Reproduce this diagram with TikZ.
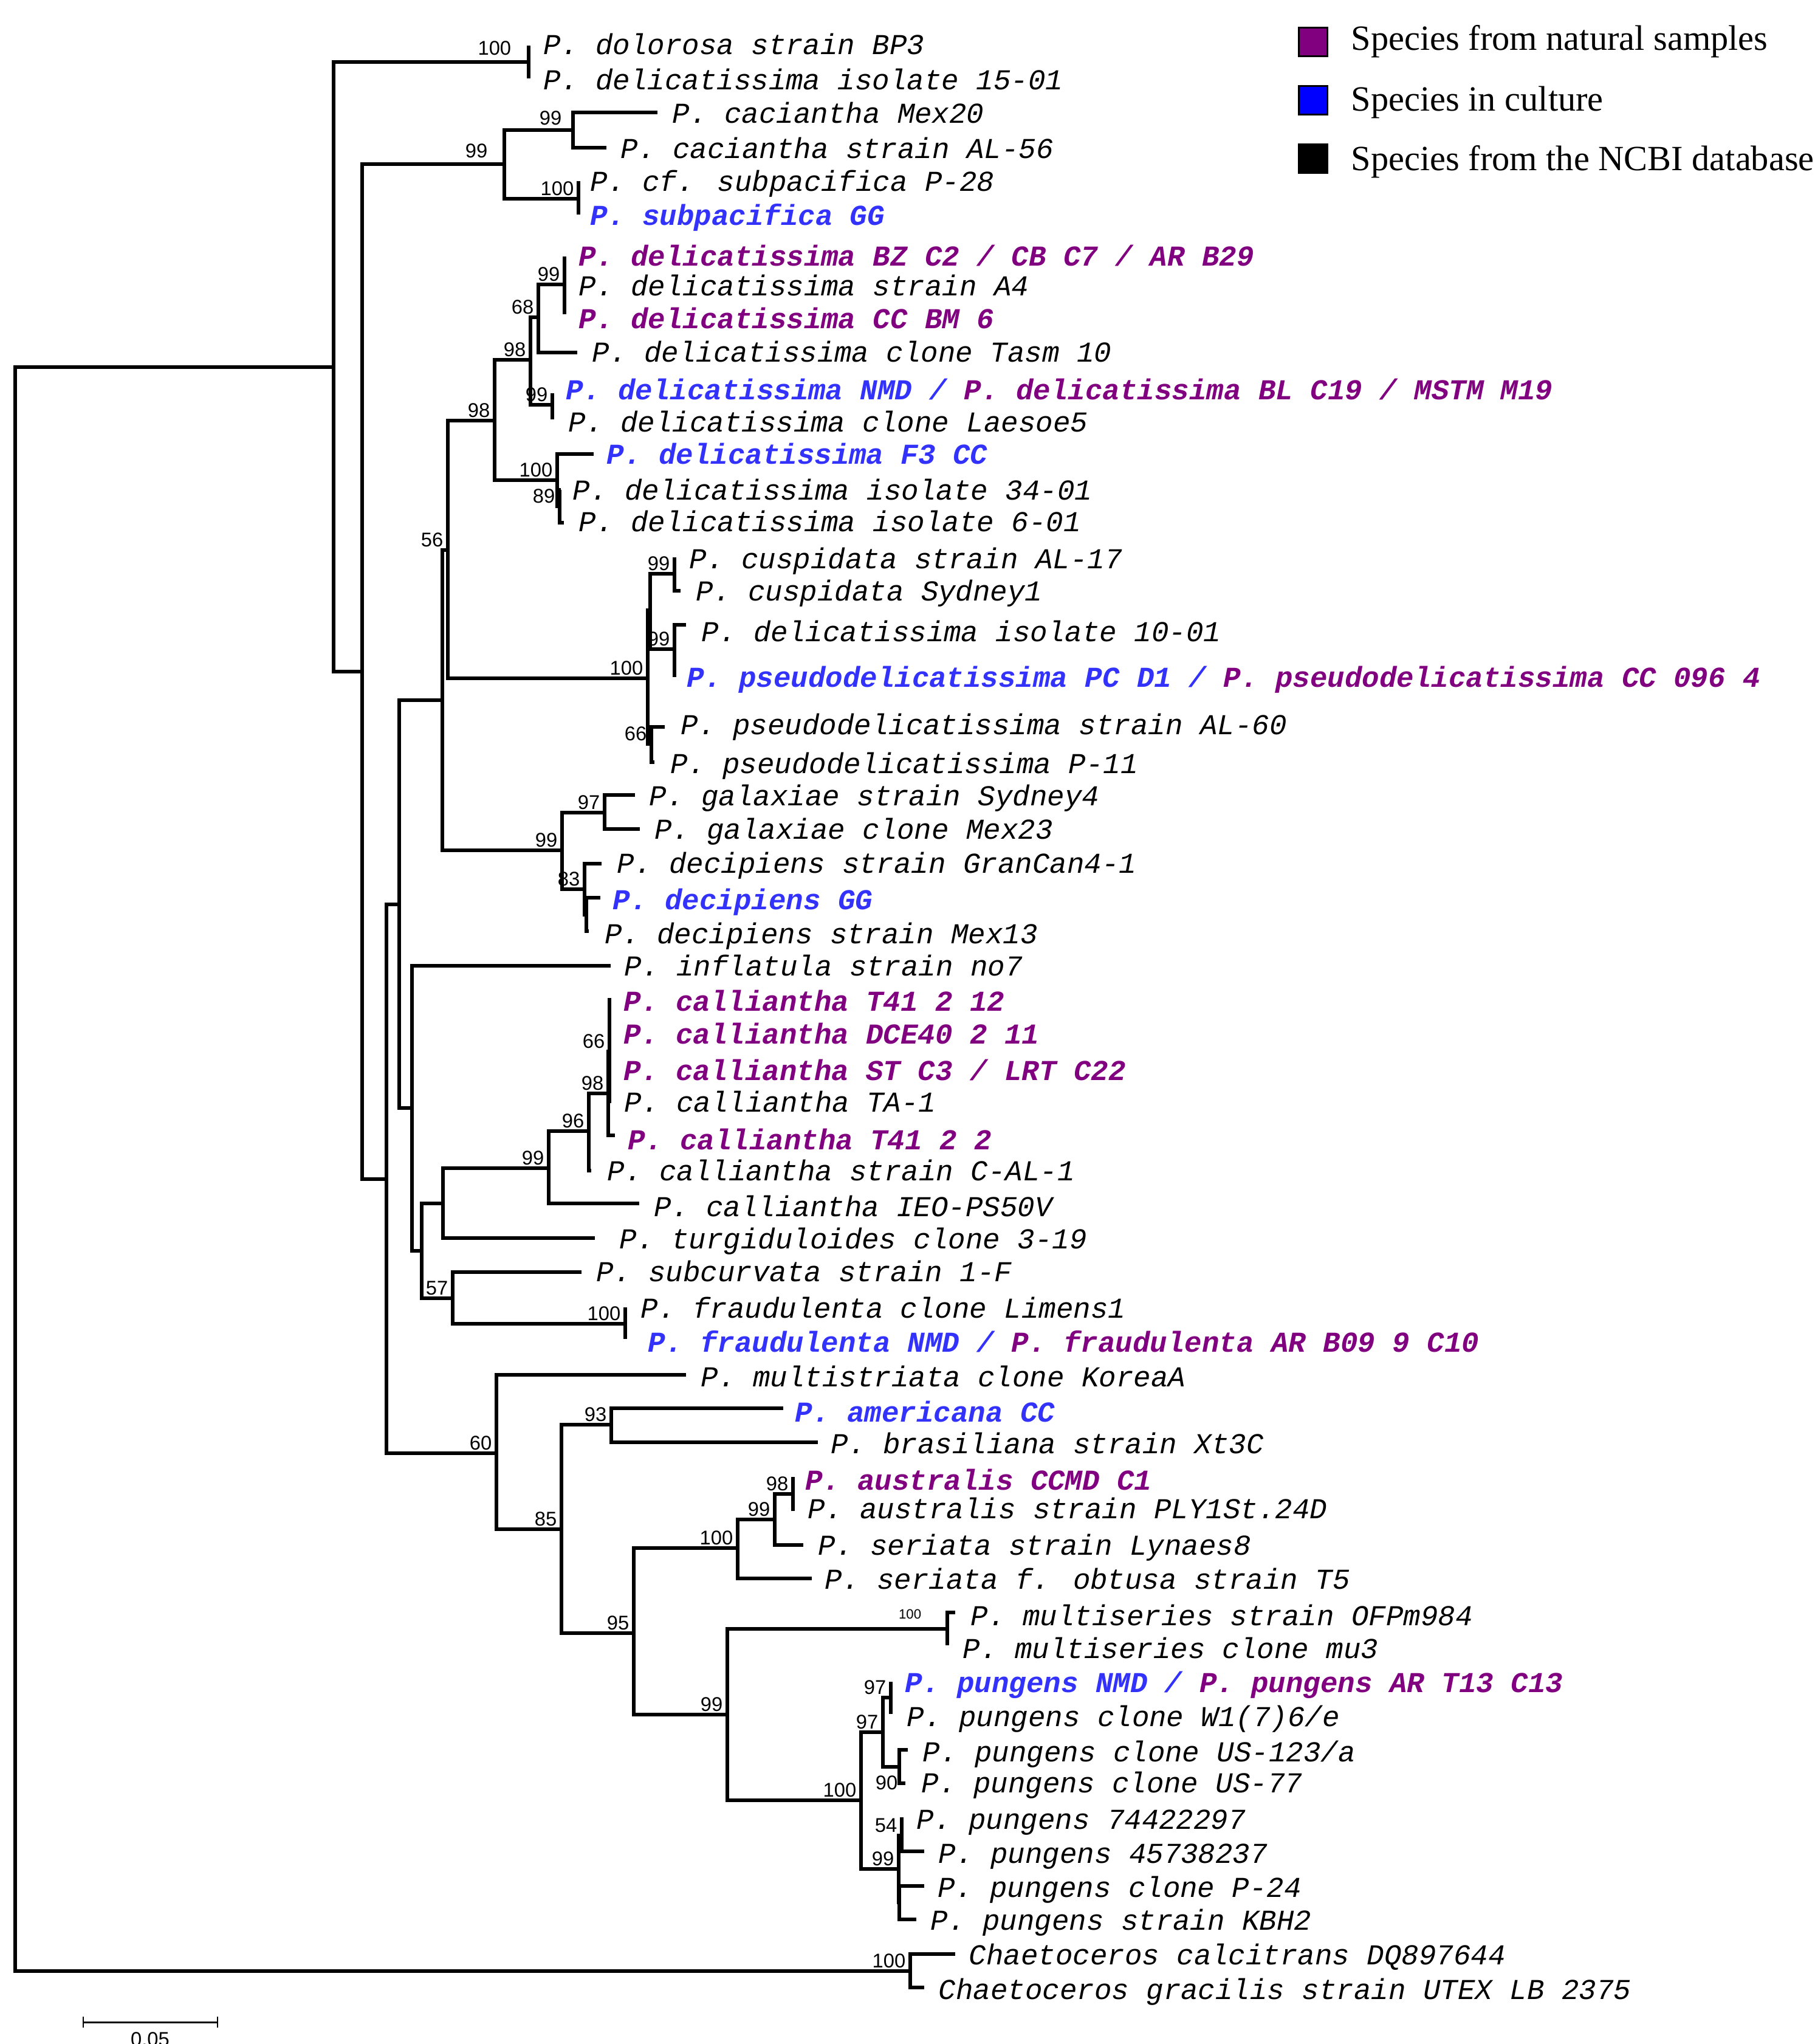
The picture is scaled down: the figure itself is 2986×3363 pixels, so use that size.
\documentclass[tikz,border=0pt]{standalone}
\usepackage{fontspec}
\newfontfamily\monof{Liberation Mono}
\newfontfamily\sansf{Liberation Sans}
\newfontfamily\seriff{Liberation Serif}
\usetikzlibrary{calc}
\definecolor{natpurple}{RGB}{128,0,128}
\definecolor{culblue}{RGB}{50,50,250}
\definecolor{legblue}{RGB}{0,0,255}
\newcommand{\cul}[1]{{\color{culblue}\bfseries #1}}
\newcommand{\nat}[1]{{\color{natpurple}\bfseries #1}}
\begin{document}
\begin{tikzpicture}[x=0.01cm,y=-0.01cm,
  br/.style={line width=1.55pt},
  sbar/.style={line width=0.85pt},
  leaf/.style={anchor=base west, inner sep=0pt, font=\monof\itshape\fontsize{13.5}{16}\selectfont},
  bs/.style={inner sep=0pt, anchor=south east, font=\sansf\fontsize{9.3}{11}\selectfont},
  bsd/.style={bs, xshift=-2pt, yshift=1.4pt},
  sq/.style={draw=black, line width=0.6pt, minimum size=0.47cm, inner sep=0pt},
  lt/.style={anchor=base west, inner sep=0pt, font=\seriff\fontsize{16.6}{20}\selectfont}]
\useasboundingbox (0,0) rectangle (2986,3363);
\fill[white] (0,0) rectangle (2986,3363);
\clip (0,0) rectangle (2986,3363);

% ---------- internal nodes ----------
\coordinate (R) at (25,1923);
\coordinate (A) at (549,604);
\coordinate (D1) at (870,102);
\coordinate (B) at (596,1105);
\coordinate (C1) at (830,270);
\coordinate (C2) at (943,214);
\coordinate (C3) at (952,327);
\coordinate (E) at (636,1940);
\coordinate (M1) at (657,1488);
\coordinate (N56) at (728,1152);
\coordinate (N56b) at (737,905);
\coordinate (D98a) at (814,692);
\coordinate (D98b) at (873,592);
\coordinate (D68) at (886,522);
\coordinate (D99a) at (929,468);
\coordinate (D99b) at (909,666);
\coordinate (D100) at (917,790);
\coordinate (D89) at (921,833);
\coordinate (P100) at (1066,1116);
\coordinate (PX) at (1070,1004);
\coordinate (Pcusp) at (1110,944);
\coordinate (P99b) at (1110,1068);
\coordinate (P66) at (1072,1224);
\coordinate (G99) at (925,1399);
\coordinate (G97) at (995,1337);
\coordinate (G83) at (962,1463);
\coordinate (G83b) at (965,1505);
\coordinate (M2) at (678,1823);
\coordinate (M3) at (694,2058);
\coordinate (M4) at (729,1980);
\coordinate (C99) at (903,1922);
\coordinate (C96) at (969,1861);
\coordinate (C98) at (1001,1799);
\coordinate (C66) at (1003,1730);
\coordinate (F57) at (745,2136);
\coordinate (F100) at (1029,2178);
\coordinate (N60) at (817,2391);
\coordinate (N85) at (924,2516);
\coordinate (N93) at (1006,2344);
\coordinate (N95) at (1043,2687);
\coordinate (N100s) at (1214,2547);
\coordinate (N99a) at (1275,2500);
\coordinate (N98) at (1305,2458);
\coordinate (N99p) at (1197,2821);
\coordinate (N100m) at (1559,2680);
\coordinate (Q100) at (1417,2962);
\coordinate (P97b) at (1453,2850);
\coordinate (P97a) at (1466,2793);
\coordinate (P90) at (1480,2907);
\coordinate (P99) at (1479,3075);
\coordinate (P54) at (1484,3020);
\coordinate (PY) at (1480,3130);
\coordinate (CH) at (1498,3243);

% ---------- tips ----------
\coordinate (t1) at (870,75);
\coordinate (t2) at (870,129);
\coordinate (t3) at (1082,185);
\coordinate (t4) at (998,243);
\coordinate (t5) at (952,298);
\coordinate (t6) at (952,353);
\coordinate (t7) at (929,422);
\coordinate (t8) at (929,470);
\coordinate (t9) at (929,517);
\coordinate (t10) at (950,580);
\coordinate (t11) at (909,647);
\coordinate (t12) at (909,690);
\coordinate (t13) at (977,747);
\coordinate (t14) at (923,806);
\coordinate (t15) at (928,860);
\coordinate (t16) at (1110,917);
\coordinate (t17) at (1120,972);
\coordinate (t18) at (1129,1028);
\coordinate (t19) at (1110,1114);
\coordinate (t20) at (1094,1196);
\coordinate (t21) at (1077,1254);
\coordinate (t22) at (1045,1308);
\coordinate (t23) at (1053,1364);
\coordinate (t24) at (990,1421);
\coordinate (t25) at (988,1477);
\coordinate (t26) at (969,1532);
\coordinate (t27) at (1005,1589);
\coordinate (t28) at (1006,1645);
\coordinate (t29) at (1006,1705);
\coordinate (t30) at (1006,1765);
\coordinate (t31) at (1006,1812);
\coordinate (t32) at (1012,1868);
\coordinate (t33) at (973,1926);
\coordinate (t34) at (1052,1980);
\coordinate (t35) at (979,2037);
\coordinate (t36) at (957,2093);
\coordinate (t37) at (1029,2151);
\coordinate (t38) at (1029,2203);
\coordinate (t39) at (1129,2262);
\coordinate (t40) at (1289,2317);
\coordinate (t41) at (1346,2373);
\coordinate (t42) at (1305,2430);
\coordinate (t43) at (1305,2486);
\coordinate (t44) at (1322,2542);
\coordinate (t45) at (1336,2597);
\coordinate (t46) at (1572,2653);
\coordinate (t47) at (1559,2707);
\coordinate (t48) at (1466,2767);
\coordinate (t49) at (1466,2820);
\coordinate (t50) at (1494,2879);
\coordinate (t51) at (1490,2934);
\coordinate (t52) at (1487,2993);
\coordinate (t53) at (1521,3046);
\coordinate (t54) at (1521,3103);
\coordinate (t55) at (1508,3158);
\coordinate (t56) at (1572,3215);
\coordinate (t57) at (1521,3270);

% ---------- branches ----------
\draw[br] (A) -| (R) |- (CH);
\draw[br] (D1) -| (A) |- (B);
\draw[br] (t1) -| (D1) |- (t2);
\draw[br] (C1) -| (B) |- (E);
\draw[br] (C2) -| (C1) |- (C3);
\draw[br] (t3) -| (C2) |- (t4);
\draw[br] (t5) -| (C3) |- (t6);
\draw[br] (M1) -| (E) |- (N60);
\draw[br] (N56) -| (M1) |- (M2);
\draw[br] (N56b) -| (N56) |- (G99);
\draw[br] (D98a) -| (N56b) |- (P100);
\draw[br] (D98b) -| (D98a) |- (D100);
\draw[br] (D68) -| (D98b) |- (D99b);
\draw[br] (D99a) -| (D68) |- (t10);
\draw[br] (t7) -| (D99a) |- (t9);
\draw[br] (t11) -| (D99b) |- (t12);
\draw[br] (t13) -| (D100) |- (D89);
\draw[br] (t14) -| (D89) |- (t15);
\draw[br] (PX) -| (P100) |- (P66);
\draw[br] (Pcusp) -| (PX) |- (P99b);
\draw[br] (t16) -| (Pcusp) |- (t17);
\draw[br] (t18) -| (P99b) |- (t19);
\draw[br] (t20) -| (P66) |- (t21);
\draw[br] (G97) -| (G99) |- (G83);
\draw[br] (t22) -| (G97) |- (t23);
\draw[br] (t24) -| (G83) |- (G83b);
\draw[br] (t25) -| (G83b) |- (t26);
\draw[br] (t27) -| (M2) |- (M3);
\draw[br] (M4) -| (M3) |- (F57);
\draw[br] (C99) -| (M4) |- (t35);
\draw[br] (C96) -| (C99) |- (t34);
\draw[br] (C98) -| (C96) |- (t33);
\draw[br] (C66) -| (C98) |- (t32);
\draw[br] (t28) -| (C66) |- (t31);
\draw[br] (C66 |- t29) -- (t29);
\draw[br] (C66 |- t30) -- (t30);
\draw[br] (t36) -| (F57) |- (F100);
\draw[br] (t37) -| (F100) |- (t38);
\draw[br] (t39) -| (N60) |- (N85);
\draw[br] (N93) -| (N85) |- (N95);
\draw[br] (t40) -| (N93) |- (t41);
\draw[br] (N100s) -| (N95) |- (N99p);
\draw[br] (N99a) -| (N100s) |- (t45);
\draw[br] (N98) -| (N99a) |- (t44);
\draw[br] (t42) -| (N98) |- (t43);
\draw[br] (N100m) -| (N99p) |- (Q100);
\draw[br] (t46) -| (N100m) |- (t47);
\draw[br] (P97b) -| (Q100) |- (P99);
\draw[br] (P97a) -| (P97b) |- (P90);
\draw[br] (t48) -| (P97a) |- (t49);
\draw[br] (t50) -| (P90) |- (t51);
\draw[br] (P54) -| (P99) |- (PY);
\draw[br] (t52) -| (P54) |- (t53);
\draw[br] (t54) -| (PY) |- (t55);
\draw[br] (t56) -| (CH) |- (t57);

% ---------- bootstrap values ----------
\node[bs, xshift=-8pt, yshift=3.1pt] (bD1) at (D1) {100};
\node[bs, xshift=-7.7pt, yshift=2.6pt] (bC1) at (C1) {99};
\node[bs, xshift=-5.1pt, yshift=2pt] (bC2) at (C2) {99};
\node[bsd] (bC3) at (C3) {100};
\node[bsd] (bD98a) at (D98a) {98};
\node[bsd] (bD98b) at (D98b) {98};
\node[bsd] (bD68) at (D68) {68};
\node[bsd] (bD99a) at (D99a) {99};
\node[bsd] (bD99b) at (D99b) {99};
\node[bsd] (bD100) at (D100) {100};
\node[bsd] (bD89) at (D89) {89};
\node[bsd] (bN56b) at (N56b) {56};
\node[bsd] (bP100) at (P100) {100};
\node[bsd] (bPcusp) at (Pcusp) {99};
\node[bsd] (bP99b) at (P99b) {99};
\node[bsd] (bP66) at (P66) {66};
\node[bsd] (bG99) at (G99) {99};
\node[bsd] (bG97) at (G97) {97};
\node[bsd] (bG83) at (G83) {83};
\node[bsd] (bC99) at (C99) {99};
\node[bsd] (bC96) at (C96) {96};
\node[bsd] (bC98) at (C98) {98};
\node[bsd] (bC66) at (C66) {66};
\node[bsd] (bF57) at (F57) {57};
\node[bsd] (bF100) at (F100) {100};
\node[bsd] (bN60) at (N60) {60};
\node[bsd] (bN85) at (N85) {85};
\node[bsd] (bN93) at (N93) {93};
\node[bsd] (bN95) at (N95) {95};
\node[bsd] (bN100s) at (N100s) {100};
\node[bsd] (bN99a) at (N99a) {99};
\node[bsd] (bN98) at (N98) {98};
\node[bsd] (bN99p) at (N99p) {99};
\node[bs, font=\sansf\fontsize{6.3}{8}\selectfont, xshift=-12pt, yshift=4.4pt] (bN100m) at (N100m) {100};
\node[bsd] (bQ100) at (Q100) {100};
\node[bsd] (bP97b) at (P97b) {97};
\node[bsd] (bP97a) at (P97a) {97};
\node[bs, anchor=north east, xshift=-0.6pt, yshift=-4pt] (bP90) at (P90) {90};
\node[bsd] (bP99) at (P99) {99};
\node[bsd] (bP54) at (P54) {54};
\node[bsd] (bCH) at (CH) {100};

% ---------- leaf labels ----------
\node[leaf] (l1) at (894,89) {P. dolorosa strain BP3};
\node[leaf] (l2) at (894,147) {P. delicatissima isolate 15-01};
\node[leaf] (l3) at (1106,202) {P. caciantha Mex20};
\node[leaf] (l4) at (1021,260) {P. caciantha strain AL-56};
\node[leaf] (l5) at (971,314) {P. cf. subpacifica P-28};
\node[leaf] (l6) at (971,370) {\cul{P. subpacifica GG}};
\node[leaf] (l7) at (952,437) {\nat{P. delicatissima BZ C2 / CB C7 / AR B29}};
\node[leaf] (l8) at (952,486) {P. delicatissima strain A4};
\node[leaf] (l9) at (952,540) {\nat{P. delicatissima CC BM 6}};
\node[leaf] (l10) at (974,595) {P. delicatissima clone Tasm 10};
\node[leaf] (l11) at (931,657) {\cul{P. delicatissima NMD /} \nat{P. delicatissima BL C19 / MSTM M19}};
\node[leaf] (l12) at (935,710) {P. delicatissima clone Laesoe5};
\node[leaf] (l13) at (998,763) {\cul{P. delicatissima F3 CC}};
\node[leaf] (l14) at (942,822) {P. delicatissima isolate 34-01};
\node[leaf] (l15) at (952,874) {P. delicatissima isolate 6-01};
\node[leaf] (l16) at (1134,935) {P. cuspidata strain AL-17};
\node[leaf] (l17) at (1145,988) {P. cuspidata Sydney1};
\node[leaf] (l18) at (1154,1055) {P. delicatissima isolate 10-01};
\node[leaf] (l19) at (1130,1130) {\cul{P. pseudodelicatissima PC D1 /} \nat{P. pseudodelicatissima CC 096 4}};
\node[leaf] (l20) at (1120,1208) {P. pseudodelicatissima strain AL-60};
\node[leaf] (l21) at (1103,1272) {P. pseudodelicatissima P-11};
\node[leaf] (l22) at (1068,1325) {P. galaxiae strain Sydney4};
\node[leaf] (l23) at (1077,1380) {P. galaxiae clone Mex23};
\node[leaf] (l24) at (1015,1436) {P. decipiens strain GranCan4-1};
\node[leaf] (l25) at (1008,1496) {\cul{P. decipiens GG}};
\node[leaf] (l26) at (995,1552) {P. decipiens strain Mex13};
\node[leaf] (l27) at (1027,1605) {P. inflatula strain no7};
\node[leaf] (l28) at (1026,1663) {\nat{P. calliantha T41 2 12}};
\node[leaf] (l29) at (1026,1717) {\nat{P. calliantha DCE40 2 11}};
\node[leaf] (l30) at (1026,1777) {\nat{P. calliantha ST C3 / LRT C22}};
\node[leaf] (l31) at (1027,1829) {P. calliantha TA-1};
\node[leaf] (l32) at (1033,1891) {\nat{P. calliantha T41 2 2}};
\node[leaf] (l33) at (999,1942) {P. calliantha strain C-AL-1};
\node[leaf] (l34) at (1076,2001) {P. calliantha IEO-PS50V};
\node[leaf] (l35) at (1019,2054) {P. turgiduloides clone 3-19};
\node[leaf] (l36) at (981,2108) {P. subcurvata strain 1-F};
\node[leaf] (l37) at (1054,2168) {P. fraudulenta clone Limens1};
\node[leaf] (l38) at (1066,2224) {\cul{P. fraudulenta NMD /} \nat{P. fraudulenta AR B09 9 C10}};
\node[leaf] (l39) at (1153,2281) {P. multistriata clone KoreaA};
\node[leaf] (l40) at (1308,2339) {\cul{P. americana CC}};
\node[leaf] (l41) at (1367,2391) {P. brasiliana strain Xt3C};
\node[leaf] (l42) at (1325,2451) {\nat{P. australis CCMD C1}};
\node[leaf] (l43) at (1329,2498) {P. australis strain PLY1St.24D};
\node[leaf] (l44) at (1346,2558) {P. seriata strain Lynaes8};
\node[leaf] (l45) at (1357,2614) {P. seriata f. obtusa strain T5};
\node[leaf] (l46) at (1597,2674) {P. multiseries strain OFPm984};
\node[leaf] (l47) at (1584,2728) {P. multiseries clone mu3};
\node[leaf] (l48) at (1489,2784) {\cul{P. pungens NMD /} \nat{P. pungens AR T13 C13}};
\node[leaf] (l49) at (1492,2840) {P. pungens clone W1(7)6/e};
\node[leaf] (l50) at (1518,2898) {P. pungens clone US-123/a};
\node[leaf] (l51) at (1516,2949) {P. pungens clone US-77};
\node[leaf] (l52) at (1508,3009) {P. pungens 74422297};
\node[leaf] (l53) at (1544,3065) {P. pungens 45738237};
\node[leaf] (l54) at (1543,3121) {P. pungens clone P-24};
\node[leaf] (l55) at (1531,3175) {P. pungens strain KBH2};
\node[leaf] (l56) at (1594,3232) {Chaetoceros calcitrans DQ897644};
\node[leaf] (l57) at (1544,3289) {Chaetoceros gracilis strain UTEX LB 2375};

% ---------- scale bar ----------
\coordinate (sb1) at (137,3327);
\coordinate (sb2) at (358,3327);
\draw[sbar] (sb1) -- (sb2);
\draw[sbar] ($(sb1)+(0,-9)$) -- ($(sb1)+(0,9)$);
\draw[sbar] ($(sb2)+(0,-9)$) -- ($(sb2)+(0,9)$);
\node[bs, anchor=north] (sbl) at (247,3343) {0.05};

% ---------- legend ----------
\node[sq, fill=natpurple] (k1) at (2161,69) {};
\node[sq, fill=legblue] (k2) at (2161,165) {};
\node[sq, fill=black] (k3) at (2161,261) {};
\node[lt] (k1t) at (2223,82) {Species from natural samples};
\node[lt] (k2t) at (2223,182) {Species in culture};
\node[lt] (k3t) at (2223,280) {Species from the NCBI database};
\end{tikzpicture}
\end{document}
